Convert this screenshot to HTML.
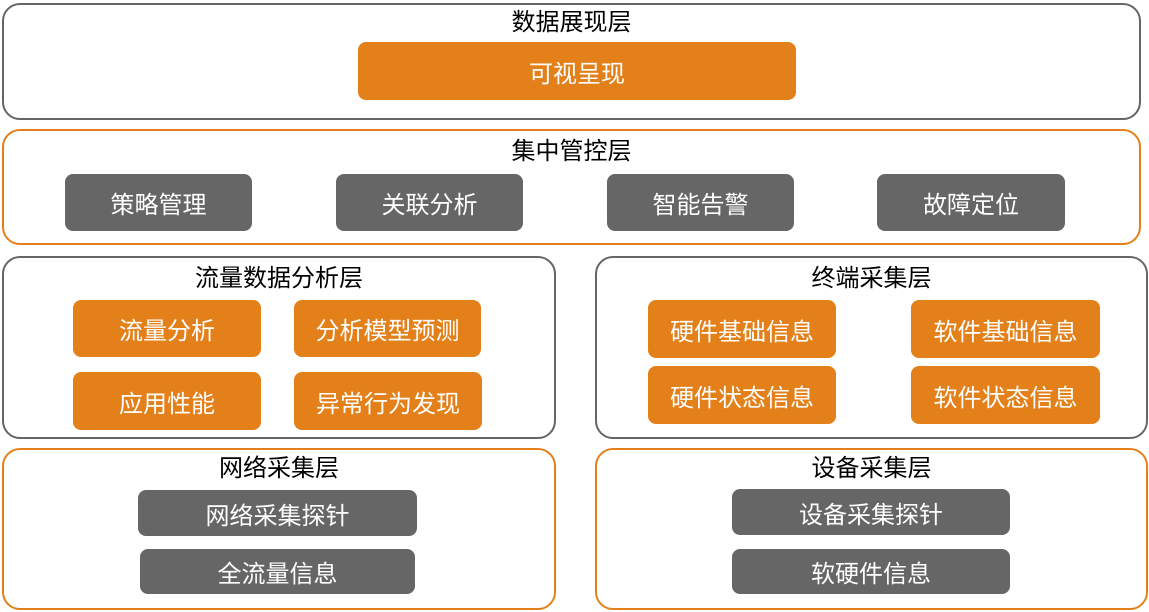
<!DOCTYPE html>
<html><head><meta charset="utf-8"><style>
body{margin:0;width:1149px;height:612px;background:#fff;position:relative;overflow:hidden;font-family:"Liberation Sans","Noto Sans CJK SC",sans-serif}
.p{position:absolute;box-sizing:border-box;border:2.5px solid #666;border-radius:18px;background:#fff}
.o{border-color:#E3801A}
.t{position:absolute;left:0;right:0;text-align:center;font-size:24px;line-height:30px;color:#000}
.b{position:absolute;box-sizing:border-box;border-radius:8px;color:#fff;font-size:24px;display:flex;align-items:center;justify-content:center}
.or{background:#E3801A}.gr{background:#666}
</style></head><body>
<div class="p" style="left:2px;top:3px;width:1139px;height:117px"></div>
<div class="t" style="left:2px;width:1139px;top:8px">数据展现层</div>
<div class="b or" style="left:358px;top:42px;width:438px;height:58px">可视呈现</div>

<div class="p o" style="left:2px;top:129px;width:1139px;height:116px"></div>
<div class="t" style="left:2px;width:1139px;top:137px">集中管控层</div>
<div class="b gr" style="left:65px;top:174px;width:187px;height:57px">策略管理</div>
<div class="b gr" style="left:336px;top:174px;width:187px;height:57px">关联分析</div>
<div class="b gr" style="left:607px;top:174px;width:187px;height:57px">智能告警</div>
<div class="b gr" style="left:877px;top:174px;width:188px;height:57px">故障定位</div>

<div class="p" style="left:2px;top:256px;width:554px;height:183px"></div>
<div class="t" style="left:2px;width:554px;top:264px">流量数据分析层</div>
<div class="b or" style="left:73px;top:300px;width:188px;height:57px">流量分析</div>
<div class="b or" style="left:294px;top:300px;width:187px;height:57px">分析模型预测</div>
<div class="b or" style="left:73px;top:372px;width:188px;height:58px">应用性能</div>
<div class="b or" style="left:294px;top:372px;width:188px;height:58px">异常行为发现</div>

<div class="p" style="left:595px;top:256px;width:553px;height:183px"></div>
<div class="t" style="left:595px;width:553px;top:264px">终端采集层</div>
<div class="b or" style="left:648px;top:300px;width:188px;height:58px">硬件基础信息</div>
<div class="b or" style="left:911px;top:300px;width:189px;height:58px">软件基础信息</div>
<div class="b or" style="left:648px;top:366px;width:188px;height:58px">硬件状态信息</div>
<div class="b or" style="left:911px;top:366px;width:189px;height:58px">软件状态信息</div>

<div class="p o" style="left:2px;top:448px;width:554px;height:162px"></div>
<div class="t" style="left:2px;width:554px;top:454px">网络采集层</div>
<div class="b gr" style="left:138px;top:490px;width:279px;height:46px">网络采集探针</div>
<div class="b gr" style="left:140px;top:549px;width:275px;height:45px">全流量信息</div>

<div class="p o" style="left:595px;top:448px;width:553px;height:162px"></div>
<div class="t" style="left:595px;width:553px;top:454px">设备采集层</div>
<div class="b gr" style="left:732px;top:489px;width:278px;height:46px">设备采集探针</div>
<div class="b gr" style="left:732px;top:549px;width:278px;height:45px">软硬件信息</div>
</body></html>
